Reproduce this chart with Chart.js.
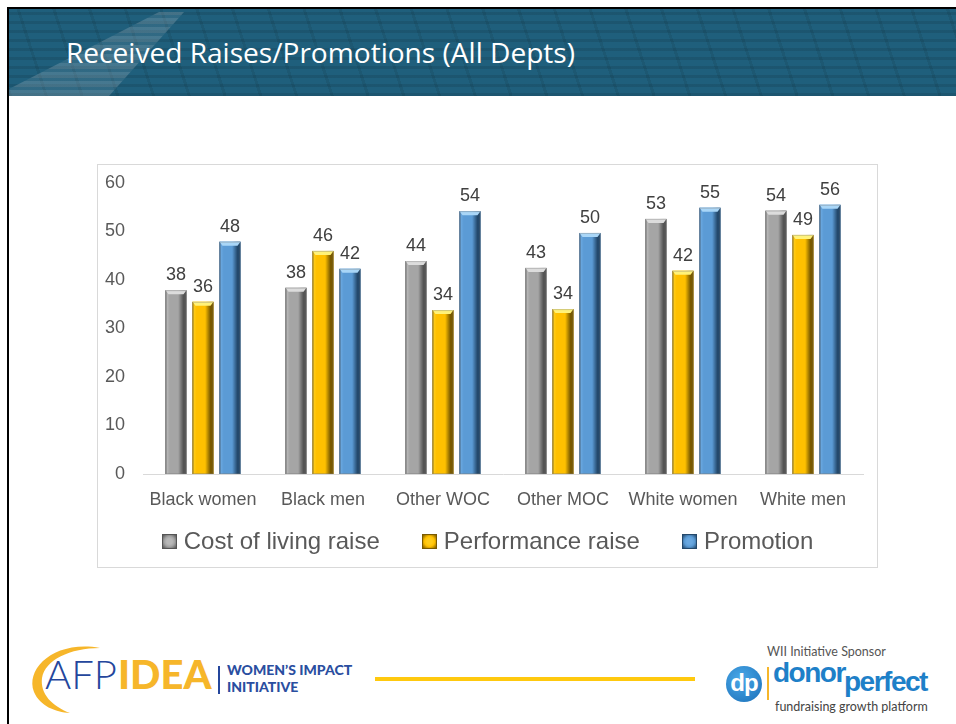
<!DOCTYPE html>
<html>
<head>
<meta charset="utf-8">
<script src="https://cdn.jsdelivr.net/npm/chart.js@4.4.0/dist/chart.umd.min.js"></script>
<style>
    body { margin:0; width:956px; height:724px; position:relative; overflow:hidden; background:#fff; font-family:"Liberation Sans", Arial, sans-serif; }
    .frame { position:absolute; left:7px; top:7px; width:960px; height:730px; border-left:2px solid #000; border-top:2px solid #000; }
    .header {
        position:absolute; left:9px; top:9px; width:947px; height:87px;
        background-color:#1f5f7c;
        background-image:
            repeating-linear-gradient(0deg, rgba(0,0,0,0.10) 0 3px, transparent 3px 9px),
            repeating-linear-gradient(72deg, rgba(0,0,0,0.08) 0 3px, transparent 3px 34px);
        overflow:hidden;
    }
    .wedge {
        position:absolute; left:0; top:0; width:250px; height:87px;
        background: repeating-linear-gradient(0deg, rgba(170,185,195,0.28) 0 6px, rgba(150,165,175,0.15) 6px 9px);
        clip-path: polygon(150px 3px, 175px 3px, 100px 87px, 0 87px, 0 80px);
    }
    .title { position:absolute; left:66px; top:33px; color:#fff; font-family:"Open Sans", sans-serif; font-size:28px; white-space:nowrap; transform-origin:left top; }
    .box { position:absolute; left:97px; top:164px; width:779px; height:402px; border:1px solid #d9d9d9; }
    #chart { position:absolute; left:0; top:0; }
    .legend { position:absolute; left:0; top:362px; width:779px; display:flex; justify-content:center; gap:42px; font-size:24px; color:#595959; }
    .legend span { display:flex; align-items:center; gap:7px; }
    .legend i { display:inline-block; width:13px; height:13px; }
    .afp { position:absolute; left:45px; top:651px; font-family:Lato, sans-serif; font-size:40px; line-height:46px; white-space:nowrap; }
    .afp .a { color:#24469c; font-weight:300; }
    .afp .i { color:#f6b62a; font-weight:900; margin-left:1px; }
    .bar1 { position:absolute; left:218px; top:666px; width:2px; height:28px; background:#24469c; }
    .wii { position:absolute; left:227px; top:661px; font-family:Lato, sans-serif; font-weight:900; font-size:14px; line-height:17px; color:#2a4ea0; }
    .yline { position:absolute; left:375px; top:677px; width:320px; height:4px; background:#ffc90e; }
    .sponsor { position:absolute; left:767px; top:644px; font-family:Lato, sans-serif; font-size:12.5px; color:#555; }
    .dp { position:absolute; left:726px; top:666px; width:36px; height:36px; border-radius:50%; background:radial-gradient(circle at 40% 35%, #4aa8e8, #1a6fb8); color:#fff; font-family:"Liberation Sans", Arial, sans-serif; font-weight:bold; font-size:24px; line-height:34px; text-align:center; letter-spacing:-1px; }
    .bar2 { position:absolute; left:767px; top:667px; width:2px; height:33px; background:#f6b62a; }
    .donor { position:absolute; left:773px; top:657px; font-family:"Liberation Sans", Arial, sans-serif; font-weight:bold; font-size:28px; color:#1e80c8; letter-spacing:-1.5px; }
    .perfect { position:absolute; left:844px; top:666px; font-family:"Liberation Sans", Arial, sans-serif; font-weight:bold; font-size:28px; color:#1e80c8; letter-spacing:-1.5px; }
    .fgp { position:absolute; left:775px; top:699px; font-family:Lato, sans-serif; font-size:12.5px; color:#444; }
</style>
</head>
<body>
<div class="frame"></div>
<div class="header"><div class="wedge"></div></div>
<div class="title" id="title">Received Raises/Promotions (All Depts)</div>

<div class="box">
    <canvas id="chart" width="779" height="402"></canvas>
    <div class="legend" id="legend"></div>
</div>

<svg style="position:absolute;left:0;top:630px" width="130" height="94">
    <path d="M100,18 C55,10 25,38 34,62 C40,76 55,82 70,83 C52,76 40,64 42,48 C45,30 70,18 100,18 Z" fill="#f6b62a"/>
</svg>
<div class="afp"><span class="a">AFP</span><span class="i">IDEA</span></div>
<div class="bar1"></div>
<div class="wii">WOMEN’S IMPACT<br>INITIATIVE</div>
<div class="yline"></div>
<div class="sponsor">WII Initiative Sponsor</div>
<div class="dp">dp</div>
<div class="bar2"></div>
<div class="donor">donor</div>
<div class="perfect">perfect</div>
<div class="fgp">fundraising growth platform</div>

<script>
const categories = ['Black women', 'Black men', 'Other WOC', 'Other MOC', 'White women', 'White men'];
const seriesNames = ['Cost of living raise', 'Performance raise', 'Promotion'];
const costOfLiving = [37.9, 38.4, 43.9, 42.5, 52.6, 54.3];
const performance = [35.5, 46.0, 33.8, 34.0, 41.9, 49.3];
const promotion = [47.9, 42.3, 54.2, 49.7, 54.9, 55.5];
const yTicks = [0, 10, 20, 30, 40, 50, 60];

// base / light / dark / cap colours for the bevelled bars
const barStyles = [
    { base: '#a5a5a5', light: '#b8b8b8', dark: '#555555', cap: '#dcdcdc' },
    { base: '#ffc000', light: '#ffcc1a', dark: '#7a5a00', cap: '#fff27a' },
    { base: '#5b9bd5', light: '#6aa8e0', dark: '#24496c', cap: '#a9d6f7' }
];

// squeeze the title to the width it has on the slide
const t = document.getElementById('title');
t.style.transform = 'scaleX(' + (509 / t.getBoundingClientRect().width) + ')';

const bevelBars = {
    id: 'bevelBars',
    afterDatasetsDraw(chart) {
        const ctx = chart.ctx;
        chart.data.datasets.forEach((ds, i) => {
            const st = barStyles[i];
            chart.getDatasetMeta(i).data.forEach(bar => {
                const { x, y, base, width } = bar.getProps(['x', 'y', 'base', 'width'], true);
                const l = x - width / 2, r = x + width / 2;
                ctx.save();
                const g = ctx.createLinearGradient(l, 0, r, 0);
                g.addColorStop(0, st.dark);
                g.addColorStop(0.07, st.light);
                g.addColorStop(0.2, st.base);
                g.addColorStop(0.6, st.base);
                g.addColorStop(0.85, st.dark);
                g.addColorStop(1, st.dark);
                ctx.fillStyle = g;
                ctx.fillRect(l, y, width, base - y);
                // top cap
                ctx.beginPath();
                ctx.moveTo(l, y);
                ctx.lineTo(r, y);
                ctx.lineTo(r - 3, y + 4);
                ctx.lineTo(l + 3, y + 4);
                ctx.closePath();
                ctx.fillStyle = st.cap;
                ctx.fill();
                ctx.strokeStyle = 'rgba(120,120,120,0.35)';
                ctx.lineWidth = 1;
                ctx.strokeRect(l + 0.5, y + 0.5, width - 1, base - y - 1);
                ctx.restore();
            });
        });
        // value labels
        ctx.save();
        ctx.font = '18px "Liberation Sans", Arial, sans-serif';
        ctx.fillStyle = '#404040';
        ctx.textAlign = 'center';
        ctx.textBaseline = 'alphabetic';
        chart.data.datasets.forEach((ds, i) => {
            chart.getDatasetMeta(i).data.forEach((bar, j) => {
                ctx.fillText(Math.round(ds.data[j]), bar.x, bar.y - 10);
            });
        });
        ctx.restore();
    }
};

const chart = new Chart(document.getElementById('chart'), {
    type: 'bar',
    data: {
        labels: categories,
        datasets: [costOfLiving, performance, promotion].map((d, i) => ({
            label: seriesNames[i],
            data: d,
            backgroundColor: barStyles[i].base,
            borderWidth: 0,
            categoryPercentage: 0.675,
            barPercentage: 0.78
        }))
    },
    options: {
        responsive: false,
        animation: false,
        layout: { padding: { top: 18, right: 14, bottom: 53, left: 0 } },
        plugins: { legend: { display: false }, tooltip: { enabled: false } },
        scales: {
            x: {
                grid: { display: false, drawTicks: false },
                border: { display: true, color: '#d9d9d9', width: 1 },
                ticks: { color: '#595959', font: { size: 18, family: '"Liberation Sans", Arial' }, padding: 15, maxRotation: 0, autoSkip: false },
                afterFit: s => { s.height = 40; s.paddingLeft = 0; s.paddingRight = 0; }
            },
            y: {
                min: 0, max: 60,
                afterBuildTicks: s => { s.ticks = yTicks.map(v => ({ value: v })); },
                grid: { display: false, drawTicks: false },
                border: { display: false },
                ticks: { color: '#595959', font: { size: 18, family: '"Liberation Sans", Arial' }, padding: 18 },
                afterFit: s => { s.width = 45; s.paddingTop = 0; s.paddingBottom = 0; }
            }
        }
    },
    plugins: [bevelBars]
});

// legend built from the datasets
const lg = document.getElementById('legend');
chart.data.datasets.forEach((ds, i) => {
    const st = barStyles[i];
    const item = document.createElement('span');
    const sw = document.createElement('i');
    sw.style.background = `radial-gradient(circle, ${st.light} 30%, ${st.base} 55%, ${st.dark} 100%)`;
    sw.style.border = '1px solid ' + st.dark;
    item.appendChild(sw);
    item.appendChild(document.createTextNode(ds.label));
    lg.appendChild(item);
});
</script>
</body>
</html>
